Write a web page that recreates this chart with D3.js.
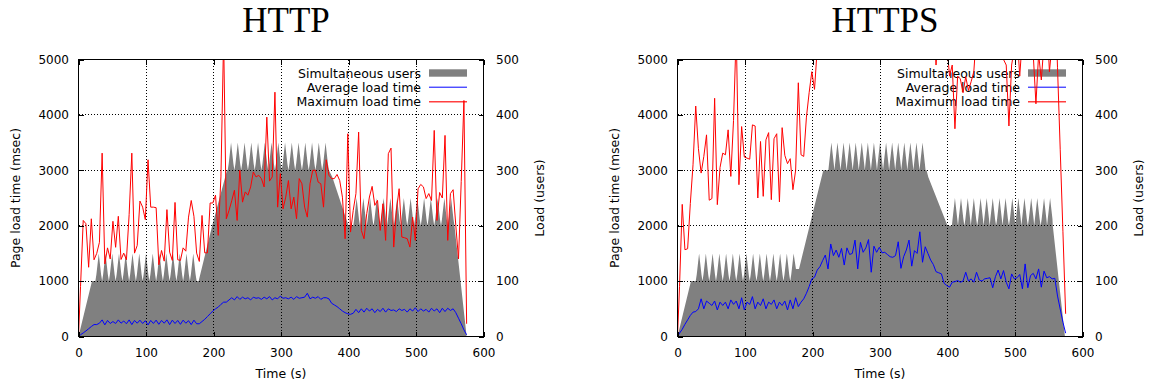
<!DOCTYPE html>
<html>
<head>
<meta charset="utf-8">
<script src="https://cdn.jsdelivr.net/npm/d3@7"></script>
<style>
  html, body { margin: 0; padding: 0; background: #fff; }
  svg { display: block; }
</style>
</head>
<body>
<svg id="chart" width="1152" height="385"></svg>
<script>
// load test log: one sample at t=0, then one every 4 s starting at 3 s
const sampleTimes = [0].concat(d3.range(3, 576, 4));

const timeTicks = [0, 100, 200, 300, 400, 500, 600];
const loadTimeTicks = [0, 1000, 2000, 3000, 4000, 5000];
const userTicks = [0, 100, 200, 300, 400, 500];
const seriesNames = ['Simultaneous users', 'Average load time', 'Maximum load time'];
const panelTitles = ['HTTP', 'HTTPS'];

// ---- HTTP ----
const httpMax = [
  0,
  900, 2095, 2035, 1250, 2125, 1385, 1500, 1700, 3310, 1310,
  1600, 1400, 2080, 1610, 2170, 1390, 1505, 1385, 2200, 3310,
  1505, 1645, 2445, 2335, 2110, 3190, 2335, 2335, 2325, 1295,
  1553, 1360, 2290, 1523, 1373, 2420, 1385, 1373, 1600, 1540,
  2155, 2455, 2170, 1505, 1355, 2185, 1510, 1510, 2410, 2410,
  2550, 1825, 2880, 5400, 2125, 2275, 2450, 2640, 2095, 3000,
  2425, 2610, 2550, 2700, 2970, 2880, 2910, 2850, 2700, 3960,
  2805, 2880, 4410, 2335, 2940, 2305, 2515, 2815, 2305, 2515,
  2125, 2850, 2757, 2335, 2155, 2757, 3000, 3000, 2787, 2757,
  2335, 3190, 2910, 2850, 2850, 2925, 2815, 2515, 1765, 3660,
  1885, 2277, 2578, 3690, 1915, 1765, 2216, 2518, 2710, 2367,
  2457, 1915, 2397, 1735, 3300, 3400, 1614, 2277, 2668, 1795,
  1783, 1765, 1614, 2155, 1735, 2665, 2745, 2700, 2490, 2580,
  2455, 3720, 2095, 2600, 2500, 3630, 1735, 2580, 2650, 2000,
  1400, 2800, 4260, 230
];

const httpAvg = [
  0,
  30, 65, 100, 140, 180, 215, 215, 240, 300, 210,
  290, 235, 270, 235, 300, 240, 280, 230, 300, 215,
  290, 240, 295, 235, 285, 210, 290, 235, 295, 220,
  290, 240, 300, 215, 295, 235, 290, 220, 295, 240,
  285, 215, 295, 230, 230, 270, 310, 360, 410, 460,
  500, 530, 580, 620, 620, 660, 700, 660, 720, 670,
  710, 680, 700, 660, 710, 690, 700, 670, 710, 680,
  720, 660, 700, 680, 730, 690, 700, 680, 710, 670,
  720, 690, 700, 710, 780, 680, 710, 690, 720, 670,
  700, 700, 680, 600, 570, 540, 500, 460, 430, 410,
  400, 420, 490, 430, 500, 440, 510, 460, 500, 430,
  490, 450, 510, 440, 500, 470, 480, 450, 500, 470,
  490, 440, 500, 460, 520, 450, 500, 460, 490, 440,
  510, 460, 500, 430, 510, 450, 510, 470, 500, 430,
  330, 230, 120, 30
];

// [time (s), users]
const httpUsers = [
  [0, 0], [20, 100], [25, 100],
  [26.5, 112], [30, 150], [33.5, 112], [35, 100],
  [36.5, 112], [40, 150], [43.5, 112], [45, 100],
  [46.5, 112], [50, 150], [53.5, 112], [55, 100],
  [56.5, 112], [60, 150], [63.5, 112], [65, 100],
  [66.5, 112], [70, 150], [73.5, 112], [75, 100],
  [76.5, 112], [80, 150], [83.5, 112], [85, 100],
  [86.5, 112], [90, 150], [93.5, 112], [95, 100],
  [96.5, 112], [100, 150], [103.5, 112], [105, 100],
  [106.5, 112], [110, 150], [113.5, 112], [115, 100],
  [116.5, 112], [120, 150], [123.5, 112], [125, 100],
  [126.5, 112], [130, 150], [133.5, 112], [135, 100],
  [136.5, 112], [140, 150], [143.5, 112], [145, 100],
  [146.5, 112], [150, 150], [153.5, 112], [155, 100],
  [156.5, 112], [160, 150], [163.5, 112], [165, 100],
  [166.5, 112], [170, 150], [173.5, 112], [175, 100],
  [178, 100], [198, 200], [220, 300], [221, 300],
  [222.5, 312], [226, 350], [229.5, 312], [231, 300],
  [232.5, 312], [236, 350], [239.5, 312], [241, 300],
  [242.5, 312], [246, 350], [249.5, 312], [251, 300],
  [252.5, 312], [256, 350], [259.5, 312], [261, 300],
  [262.5, 312], [266, 350], [269.5, 312], [271, 300],
  [272.5, 312], [276, 350], [279.5, 312], [281, 300],
  [282.5, 312], [286, 350], [289.5, 312], [291, 300],
  [292.5, 312], [296, 350], [299.5, 312], [301, 300],
  [302.5, 312], [306, 350], [309.5, 312], [311, 300],
  [312.5, 312], [316, 350], [319.5, 312], [321, 300],
  [322.5, 312], [326, 350], [329.5, 312], [331, 300],
  [332.5, 312], [336, 350], [339.5, 312], [341, 300],
  [342.5, 312], [346, 350], [349.5, 312], [351, 300],
  [352.5, 312], [356, 350], [359.5, 312], [361, 300],
  [362.5, 312], [366, 350], [369.5, 312], [371, 300],
  [376, 288], [400, 200], [407, 200],
  [408.5, 212], [412, 250], [415.5, 212], [417, 200],
  [418.5, 212], [422, 250], [425.5, 212], [427, 200],
  [428.5, 212], [432, 250], [435.5, 212], [437, 200],
  [438.5, 212], [442, 250], [445.5, 212], [447, 200],
  [448.5, 212], [452, 250], [455.5, 212], [457, 200],
  [458.5, 212], [462, 250], [465.5, 212], [467, 200],
  [468.5, 212], [472, 250], [475.5, 212], [477, 200],
  [478.5, 212], [482, 250], [485.5, 212], [487, 200],
  [488.5, 212], [492, 250], [495.5, 212], [497, 200],
  [498.5, 212], [502, 250], [505.5, 212], [507, 200],
  [508.5, 212], [512, 250], [515.5, 212], [517, 200],
  [518.5, 212], [522, 250], [525.5, 212], [527, 200],
  [528.5, 212], [532, 250], [535.5, 212], [537, 200],
  [538.5, 212], [542, 250], [545.5, 212], [547, 200],
  [548.5, 212], [552, 250], [555.5, 212], [557, 200],
  [575, 0]
];

// ---- HTTPS ----
const httpsMax = [
  0,
  900, 2385, 1566, 1584, 2400, 3100, 4160, 3390, 2950, 3250,
  3640, 2460, 2490, 4300, 2380, 3050, 3310, 3280, 3730, 2890,
  3900, 5500, 2740, 3790, 3240, 3220, 3200, 3820, 3800, 2500,
  3520, 2530, 3550, 3680, 2470, 3570, 3660, 2430, 3770, 3270,
  3120, 3210, 2650, 3000, 4580, 3280, 3250, 3960, 4400, 4780,
  4460, 5200, 5800, 6500, 6200, 7000, 6800, 7500, 6900, 7200,
  6600, 7400, 6800, 7100, 6700, 7600, 6900, 7300, 6800, 7700,
  7000, 7200, 6700, 7500, 7000, 7300, 6800, 7100, 6900, 7400,
  6800, 7200, 7000, 7600, 6900, 7300, 6800, 7100, 6700, 7400,
  6900, 7000, 6600, 6800, 5800, 4900, 5600, 6000, 5400, 5300,
  4700, 4900, 3750, 4700, 4650, 4400, 4690, 4440, 4600, 4780,
  5500, 6000, 6400, 6800, 6500, 7000, 6200, 6600, 5900, 5400,
  5000, 4900, 3800, 4900, 5200, 5500, 4700, 5400, 5800, 5600,
  5300, 5100, 4200, 5100, 4630, 5300, 5800, 4780, 5300, 6300,
  4850, 3370, 1890, 410
];

const httpsAvg = [
  0,
  60, 130, 220, 300, 380, 440, 450, 500, 680, 500,
  640, 600, 560, 640, 480, 620, 560, 620, 500, 660,
  580, 640, 500, 700, 480, 620, 580, 720, 500, 620,
  560, 680, 500, 620, 580, 660, 500, 620, 560, 640,
  480, 660, 500, 700, 540, 620, 680, 780, 900, 1040,
  1070, 1200, 1260, 1370, 1470, 1220, 1670, 1460, 1560, 1430,
  1590, 1290, 1600, 1480, 1500, 1740, 1220, 1700, 1520, 1600,
  1750, 1160, 1630, 1520, 1610, 1510, 1520, 1480, 1440, 1430,
  1460, 1710, 1230, 1440, 1560, 1740, 1270, 1550, 1500, 1890,
  1340, 1620, 1500, 1380, 1300, 1170, 1150, 1130, 960, 920,
  890, 980, 990, 1010, 980, 1000, 1160, 1000, 1040, 980,
  1160, 1020, 1000, 1040, 1050, 1060, 880, 1080, 1200, 1040,
  1190, 980, 860, 1130, 1040, 1060, 1120, 860, 1310, 880,
  1100, 1140, 1040, 1220, 890, 1180, 1060, 1080, 1040, 1050,
  730, 495, 257, 60
];

const httpsUsers = [
  [0, 0], [20, 100], [27, 100],
  [28.5, 112], [32, 150], [35.5, 112], [37, 100],
  [38.5, 112], [42, 150], [45.5, 112], [47, 100],
  [48.5, 112], [52, 150], [55.5, 112], [57, 100],
  [58.5, 112], [62, 150], [65.5, 112], [67, 100],
  [68.5, 112], [72, 150], [75.5, 112], [77, 100],
  [78.5, 112], [82, 150], [85.5, 112], [87, 100],
  [88.5, 112], [92, 150], [95.5, 112], [97, 100],
  [98.5, 112], [102, 150], [105.5, 112], [107, 100],
  [108.5, 112], [112, 150], [115.5, 112], [117, 100],
  [118.5, 112], [122, 150], [125.5, 112], [127, 100],
  [128.5, 112], [132, 150], [135.5, 112], [137, 100],
  [138.5, 112], [142, 150], [145.5, 112], [147, 100],
  [148.5, 112], [152, 150], [155.5, 112], [157, 100],
  [158.5, 112], [162, 150], [165.5, 112], [167, 100],
  [168.5, 112], [172, 150], [175.5, 122], [180, 122],
  [216, 300], [223.5, 300],
  [224.5, 312], [228, 350], [231.5, 312], [232.5, 300],
  [233.5, 312], [237, 350], [240.5, 312], [241.5, 300],
  [242.5, 312], [246, 350], [249.5, 312], [250.5, 300],
  [251.5, 312], [255, 350], [258.5, 312], [259.5, 300],
  [260.5, 312], [264, 350], [267.5, 312], [268.5, 300],
  [269.5, 312], [273, 350], [276.5, 312], [277.5, 300],
  [278.5, 312], [282, 350], [285.5, 312], [286.5, 300],
  [287.5, 312], [291, 350], [294.5, 312], [295.5, 300],
  [296.5, 312], [300, 350], [303.5, 312], [304.5, 300],
  [305.5, 312], [309, 350], [312.5, 312], [313.5, 300],
  [314.5, 312], [318, 350], [321.5, 312], [322.5, 300],
  [323.5, 312], [327, 350], [330.5, 312], [331.5, 300],
  [332.5, 312], [336, 350], [339.5, 312], [340.5, 300],
  [341.5, 312], [345, 350], [348.5, 312], [349.5, 300],
  [350.5, 312], [354, 350], [357.5, 312], [358.5, 300],
  [359.5, 312], [363, 350], [366.5, 312], [367.5, 300],
  [369, 300], [371.5, 288], [400, 200], [406.5, 200],
  [407.5, 212], [411, 250], [414.5, 212], [415.5, 200],
  [416.5, 212], [420, 250], [423.5, 212], [425, 200],
  [426.5, 212], [430, 250], [433.5, 212], [434.5, 200],
  [435.5, 212], [439, 250], [442.5, 212], [444, 200],
  [445.5, 212], [449, 250], [452.5, 212], [453.5, 200],
  [454.5, 212], [458, 250], [461.5, 212], [462.5, 200],
  [463.5, 212], [467, 250], [470.5, 212], [472, 200],
  [473.5, 212], [477, 250], [480.5, 212], [481.5, 200],
  [482.5, 212], [486, 250], [489.5, 212], [491, 200],
  [492.5, 212], [496, 250], [499.5, 212], [500.5, 200],
  [501.5, 212], [505, 250], [508.5, 212], [509.5, 200],
  [510.5, 212], [514, 250], [517.5, 212], [519, 200],
  [520.5, 212], [524, 250], [527.5, 212], [528.5, 200],
  [529.5, 212], [533, 250], [536.5, 212], [538, 200],
  [539.5, 212], [543, 250], [546.5, 212], [547.5, 200],
  [548.5, 212], [552, 250], [555.5, 212], [556, 200],
  [574, 0]
];

const FONT = 'DejaVu Sans';
const svg = d3.select('#chart');

function drawPanel(key, title, left, users, avg, max) {
  const x = d3.scaleLinear().domain([0, 600]).range([left, left + 405]);
  const y = d3.scaleLinear().domain([0, 5000]).range([336.5, 59.5]);
  const y2 = d3.scaleLinear().domain([0, 500]).range([336.5, 59.5]);
  const g = svg.append('g');

  g.append('clipPath')
    .attr('id', 'clip-' + key)
    .append('rect')
    .attr('x', x(0))
    .attr('y', y(5000))
    .attr('width', x(600) - x(0))
    .attr('height', y(0) - y(5000));

  // title
  g.append('text')
    .attr('x', left + 207.5)
    .attr('y', 32)
    .attr('text-anchor', 'middle')
    .style('font-family', 'Liberation Serif')
    .style('font-size', '35px')
    .text(title);

  // users (filled)
  const area = d3
    .area()
    .x((d) => x(d[0]))
    .y0(y2(0))
    .y1((d) => y2(d[1]));
  g.append('path')
    .datum(users)
    .attr('clip-path', 'url(#clip-' + key + ')')
    .attr('fill', '#808080')
    .attr('d', area);

  // grid
  const grid = g.append('g')
    .attr('stroke', '#000')
    .attr('stroke-width', 1)
    .attr('stroke-dasharray', '1,2')
    .attr('shape-rendering', 'crispEdges');
  timeTicks.slice(1, -1).forEach((t) => {
    grid.append('line')
      .attr('x1', x(t)).attr('x2', x(t))
      .attr('y1', y(0)).attr('y2', y(5000));
  });
  loadTimeTicks.slice(1, -1).forEach((v) => {
    grid.append('line')
      .attr('x1', x(0)).attr('x2', x(600))
      .attr('y1', y(v)).attr('y2', y(v));
  });

  // legend
  const keyRight = left + 342.5;
  const sampleX0 = left + 350.5;
  const sampleX1 = left + 388.5;
  const rowY = [73, 87.2, 101.7];
  const legend = g.append('g')
    .style('font-family', FONT)
    .style('font-size', '12.5px');
  seriesNames.forEach((name, i) => {
    legend.append('text')
      .attr('x', keyRight)
      .attr('y', rowY[i])
      .attr('dy', '0.36em')
      .attr('text-anchor', 'end')
      .text(name);
  });
  legend.append('rect')
    .attr('x', sampleX0).attr('y', rowY[0] - 3.7)
    .attr('width', sampleX1 - sampleX0).attr('height', 7.4)
    .attr('fill', '#808080');
  legend.append('line')
    .attr('x1', sampleX0).attr('x2', sampleX1)
    .attr('y1', rowY[1]).attr('y2', rowY[1])
    .attr('stroke', '#0000ff');
  legend.append('line')
    .attr('x1', sampleX0).attr('x2', sampleX1)
    .attr('y1', rowY[2]).attr('y2', rowY[2])
    .attr('stroke', '#ff0000')
    .attr('stroke-opacity', 0.75)
    .attr('stroke-width', 1.5);

  // lines
  const line = d3
    .line()
    .x((d, i) => x(sampleTimes[i]))
    .y((d) => y(d));
  g.append('path')
    .datum(avg)
    .attr('clip-path', 'url(#clip-' + key + ')')
    .attr('fill', 'none')
    .attr('stroke', '#0000ff')
    .attr('stroke-width', 1)
    .attr('d', line);
  g.append('path')
    .datum(max)
    .attr('clip-path', 'url(#clip-' + key + ')')
    .attr('fill', 'none')
    .attr('stroke', '#ff0000')
    .attr('stroke-width', 1)
    .attr('d', line);

  // axes
  const fmt = d3.format('d');
  const styleAxis = (sel) => {
    sel.select('.domain').remove();
    sel.attr('font-family', FONT).attr('font-size', 12);
    sel.selectAll('line').attr('shape-rendering', 'crispEdges');
    sel.selectAll('text').attr('fill', '#000');
  };
  g.append('g')
    .attr('transform', 'translate(0,' + y(0) + ')')
    .call(d3.axisBottom(x).tickValues(timeTicks).tickFormat(fmt).tickSize(-5).tickSizeOuter(0).tickPadding(12))
    .call(styleAxis);
  g.append('g')
    .attr('transform', 'translate(0,' + y(5000) + ')')
    .call(d3.axisTop(x).tickValues(timeTicks).tickSize(-5).tickSizeOuter(0).tickFormat(''))
    .call(styleAxis);
  g.append('g')
    .attr('transform', 'translate(' + x(0) + ',0)')
    .call(d3.axisLeft(y).tickValues(loadTimeTicks).tickFormat(fmt).tickSize(-5).tickSizeOuter(0).tickPadding(9.5))
    .call(styleAxis);
  g.append('g')
    .attr('transform', 'translate(' + x(600) + ',0)')
    .call(d3.axisRight(y2).tickValues(userTicks).tickFormat(fmt).tickSize(-5).tickSizeOuter(0).tickPadding(12.5))
    .call(styleAxis);

  // border
  g.append('rect')
    .attr('x', x(0)).attr('y', y(5000))
    .attr('width', x(600) - x(0)).attr('height', y(0) - y(5000))
    .attr('fill', 'none')
    .attr('stroke', '#000')
    .attr('stroke-width', 1)
    .attr('shape-rendering', 'crispEdges');

  // axis titles
  const labels = g.append('g')
    .style('font-family', FONT)
    .style('font-size', '12.5px');
  labels.append('text')
    .attr('x', (x(0) + x(600)) / 2)
    .attr('y', 378)
    .attr('text-anchor', 'middle')
    .text('Time (s)');
  labels.append('text')
    .attr('transform', 'translate(' + (left - 62.5) + ',198) rotate(-90)')
    .attr('text-anchor', 'middle')
    .attr('dy', '0.35em')
    .text('Page load time (msec)');
  labels.append('text')
    .attr('transform', 'translate(' + (left + 461) + ',198) rotate(-90)')
    .attr('text-anchor', 'middle')
    .attr('dy', '0.35em')
    .text('Load (users)');
}

drawPanel('http', panelTitles[0], 78.5, httpUsers, httpAvg, httpMax);
drawPanel('https', panelTitles[1], 677.5, httpsUsers, httpsAvg, httpsMax);
</script>
</body>
</html>
